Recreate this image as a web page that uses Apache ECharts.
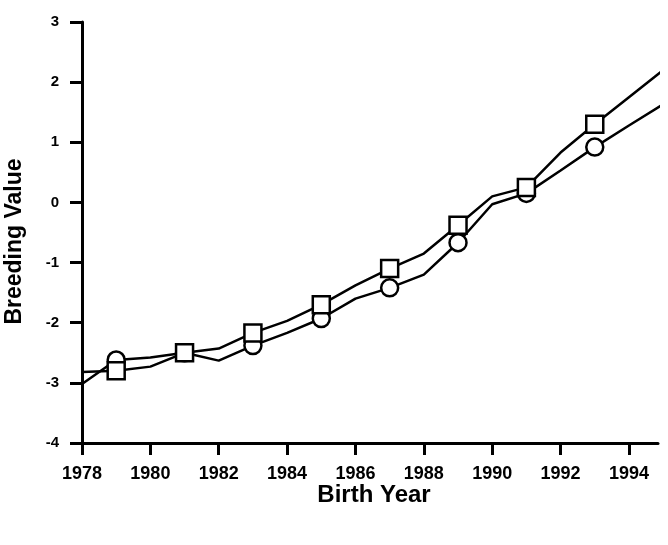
<!DOCTYPE html>
<html>
<head>
<meta charset="utf-8">
<script src="https://cdn.jsdelivr.net/npm/echarts@6/dist/echarts.min.js"></script>
<style>html,body{margin:0;padding:0;background:#fff}#c{width:668px;height:545px}</style>
</head>
<body>
<div id="c"></div>
<script>
var years = [1978,1979,1980,1981,1982,1983,1984,1985,1986,1987,1988,1989,1990,1991,1992,1993,1994,1995];
var circleValues = [-3.02,-2.62,-2.58,-2.5,-2.63,-2.38,-2.17,-1.93,-1.6,-1.42,-1.2,-0.67,-0.03,0.15,0.53,0.92,1.28,1.63];
var squareValues = [-2.82,-2.8,-2.73,-2.5,-2.43,-2.17,-1.97,-1.7,-1.38,-1.1,-0.85,-0.38,0.1,0.25,0.83,1.3,1.75,2.2];
var markerYears = [1979,1981,1983,1985,1987,1989,1991,1993];
var xTickLabels = [1978,1980,1982,1984,1986,1988,1990,1992,1994];
var yTickLabels = [-4,-3,-2,-1,0,1,2,3];

function build(vals){
  return years.map(function(y,i){
    var item = {value:[y, vals[i]]};
    if (markerYears.indexOf(y) < 0) item.symbol = 'none';
    return item;
  });
}
var font = 'Liberation Sans, Arial, sans-serif';
var chart = echarts.init(document.getElementById('c'));
chart.setOption({
  animation:false,
  grid:{left:82, right:10, top:22, bottom:102, containLabel:false, outerBoundsMode:'none'},
  xAxis:{
    type:'value', min:1978, max:1994.85,
    name:'Birth Year', nameLocation:'middle', nameGap:40, nameMoveOverlap:false,
    nameTextStyle:{fontFamily:font, fontWeight:'bold', fontSize:24, color:'#000', padding:[0,0,0,8]},
    axisLine:{onZero:false, lineStyle:{color:'#000', width:3}},
    axisTick:{show:true, length:12, lineStyle:{color:'#000', width:3}, customValues:xTickLabels},
    axisLabel:{customValues:xTickLabels, margin:22, fontFamily:font, fontWeight:'bold', fontSize:18, color:'#000',
      formatter:function(v){return String(v);}},
    splitLine:{show:false}
  },
  yAxis:{
    type:'value', min:-4, max:3, interval:1,
    name:'Breeding Value', nameLocation:'middle', nameGap:56,
    nameTextStyle:{fontFamily:font, fontWeight:'bold', fontSize:23, color:'#000', padding:[0,18,0,0]},
    axisLine:{show:true, onZero:false, lineStyle:{color:'#000', width:3}},
    axisTick:{show:true, length:12, lineStyle:{color:'#000', width:3}, customValues:yTickLabels},
    axisLabel:{customValues:yTickLabels, margin:23, fontFamily:font, fontWeight:'bold', fontSize:15, color:'#000',
      formatter:function(v){return String(v);}},
    splitLine:{show:false}
  },
  series:[
    {type:'line', data:build(circleValues), symbol:'circle', symbolSize:17, showAllSymbol:true, clip:true,
     lineStyle:{color:'#000', width:2.5}, itemStyle:{color:'#fff', borderColor:'#000', borderWidth:2.5}},
    {type:'line', data:build(squareValues), symbol:'rect', symbolSize:17, showAllSymbol:true, clip:true,
     lineStyle:{color:'#000', width:2.5}, itemStyle:{color:'#fff', borderColor:'#000', borderWidth:2.5}}
  ]
});
</script>
</body>
</html>
